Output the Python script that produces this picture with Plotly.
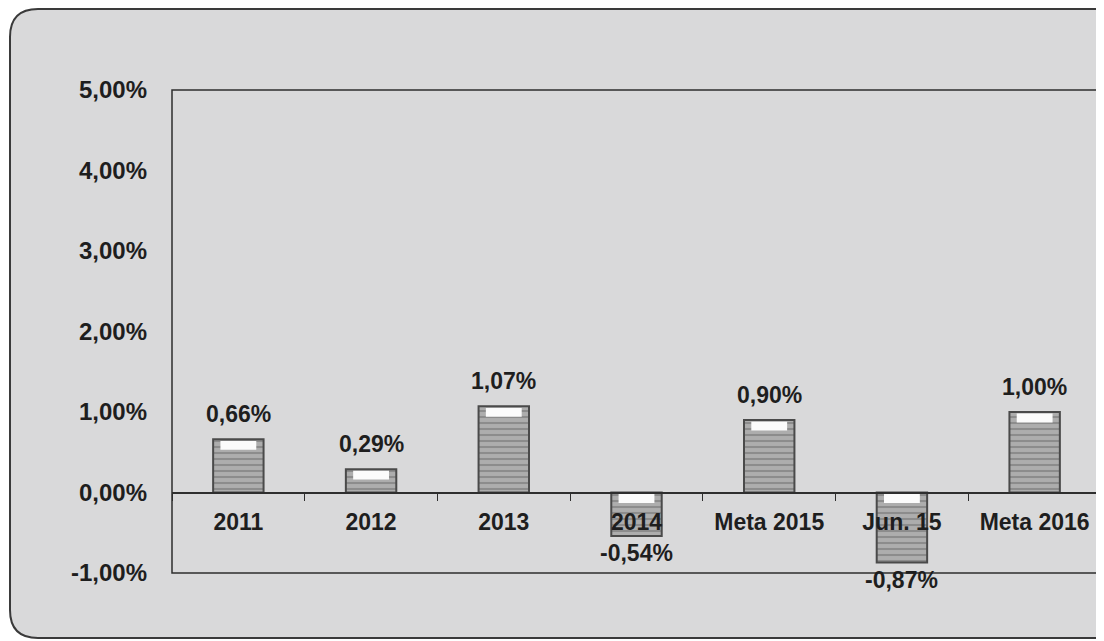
import plotly.graph_objects as go

categories = ["2011", "2012", "2013", "2014", "Meta 2015", "Jun. 15", "Meta 2016"]
values = [0.0066, 0.0029, 0.0107, -0.0054, 0.0090, -0.0087, 0.0100]
labels = ["0,66%", "0,29%", "1,07%", "-0,54%", "0,90%", "-0,87%", "1,00%"]
y_ticks = [-0.01, 0.0, 0.01, 0.02, 0.03, 0.04, 0.05]
y_tick_text = ["-1,00%", "0,00%", "1,00%", "2,00%", "3,00%", "4,00%", "5,00%"]

# page has an 8px body margin, so the figure is drawn 8px right/down
OFF = 8
W, H = 1104 - OFF, 641 - OFF
L, R, T, B = 172 - OFF, 3, 90 - OFF, 68
pw, ph = W - L - R, H - T - B

FONT = "Liberation Sans, Arial"


def px(x):
    return (x - OFF - L) / pw


def py(y):
    return (H - B - (y - OFF)) / ph


fig = go.Figure()
fig.add_trace(go.Bar(
    x=categories, y=values, width=0.38,
    marker=dict(color="#a0a0a0", line=dict(color="#4a4a4a", width=2),
                pattern=dict(shape="-", fgcolor="#6c6c6c", bgcolor="#adadad", size=6, solidity=0.35)),
    showlegend=False, hoverinfo="skip",
))
# white highlight on the top face of each bar
tops = [max(v, 0) for v in values]
fig.add_trace(go.Bar(
    x=categories, y=[0.0011] * len(values), base=[t - 0.0013 for t in tops], width=0.27,
    marker=dict(color="#fbfbfb", line=dict(width=0)),
    showlegend=False, hoverinfo="skip",
))

for i, (v, t) in enumerate(zip(values, labels)):
    fig.add_annotation(x=i, y=v, xref="x", yref="y", text=t, showarrow=False,
                       yanchor="bottom" if v >= 0 else "top",
                       yshift=10 if v >= 0 else -2,
                       font=dict(family=FONT, size=23, color="#1e1e1e", weight="bold"))

# rounded outer frame
x0, x1, y0, y1, r = px(10), px(1125), py(9), py(638), 28
rx, ry = r / pw, r / ph
path = (f"M {x0+rx},{y0} L {x1-rx},{y0} Q {x1},{y0} {x1},{y0-ry} "
        f"L {x1},{y1+ry} Q {x1},{y1} {x1-rx},{y1} L {x0+rx},{y1} Q {x0},{y1} {x0},{y1+ry} "
        f"L {x0},{y0-ry} Q {x0},{y0} {x0+rx},{y0} Z")
fig.add_shape(type="path", path=path, xref="paper", yref="paper",
              fillcolor="#d9d9da", line=dict(color="#3a3a3a", width=2), layer="below")
fig.add_shape(type="rect", x0=0, x1=1, y0=0, y1=1, xref="paper", yref="paper",
              line=dict(color="#2e2e2e", width=1.5), fillcolor="rgba(0,0,0,0)")

zero_pos = (0 - y_ticks[0]) / (y_ticks[-1] - y_ticks[0])

fig.update_layout(
    width=W, height=H, margin=dict(l=L, r=R, t=T, b=B),
    paper_bgcolor="white", plot_bgcolor="rgba(0,0,0,0)",
    barmode="overlay",
    xaxis=dict(type="category", categoryorder="array", categoryarray=categories,
               range=[-0.5, len(categories) - 0.5], autorange=False,
               anchor="free", position=zero_pos, showline=True, linecolor="#2e2e2e", linewidth=1.5,
               ticks="outside", tickson="boundaries", ticklen=8, tickcolor="#2e2e2e",
               ticklabelstandoff=9, showgrid=False, tickangle=0,
               tickfont=dict(family=FONT, size=23, color="#1e1e1e", weight="bold")),
    yaxis=dict(range=[y_ticks[0], y_ticks[-1]], tickvals=y_ticks, ticktext=y_tick_text,
               showgrid=False, zeroline=False, showline=False, ticks="",
               ticklabelstandoff=24,
               tickfont=dict(family=FONT, size=24, color="#1e1e1e", weight="bold")),
)

fig.write_html("out.html")
